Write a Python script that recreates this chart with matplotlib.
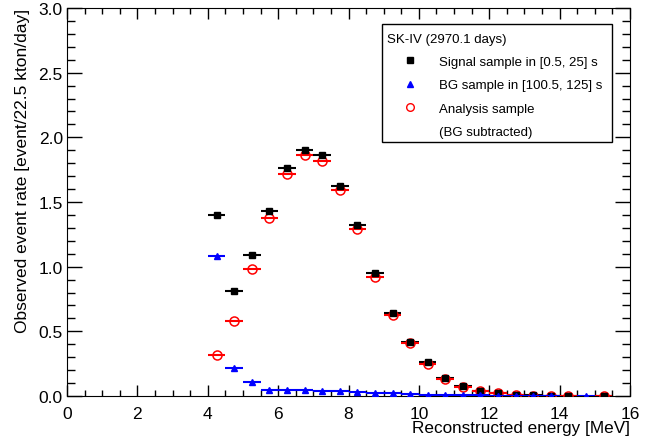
import numpy as np
import matplotlib.pyplot as plt
from matplotlib.lines import Line2D
from matplotlib.patches import Rectangle
from matplotlib.ticker import MultipleLocator

plt.rcParams['font.family'] = ['Liberation Sans', 'DejaVu Sans']

# bin centres [MeV], 0.5 MeV wide
energy = [4.25, 4.75, 5.25, 5.75, 6.25, 6.75, 7.25, 7.75, 8.25, 8.75, 9.25,
          9.75, 10.25, 10.75, 11.25, 11.75, 12.25, 12.75, 13.25, 13.75,
          14.25, 14.75, 15.25]

signal = [1.40, 0.81, 1.09, 1.43, 1.76, 1.90, 1.86, 1.62, 1.32, 0.95, 0.64,
          0.42, 0.26, 0.14, 0.08, 0.04, 0.02, 0.01, 0.005, 0.0,
          0.002, np.nan, 0.002]

bg = [1.08, 0.22, 0.11, 0.05, 0.045, 0.045, 0.04, 0.035, 0.03, 0.026, 0.021,
      0.015, 0.01, 0.008, 0.006, 0.004, 0.003, 0.002, 0.002, 0.001,
      np.nan, 0.0, np.nan]

analysis = [0.32, 0.58, 0.98, 1.38, 1.72, 1.86, 1.82, 1.59, 1.29, 0.92, 0.63,
            0.41, 0.25, 0.13, 0.07, 0.035, 0.02, 0.008, 0.003, 0.0,
            0.0, np.nan, 0.0]

half_bin = 0.25

fig = plt.figure(figsize=(6.52, 4.39), dpi=100)
ax = fig.add_axes([0.1028, 0.0957, 0.8635, 0.8838])

# bars first, markers on top (ROOT-ish look)
ax.errorbar(energy, signal, xerr=half_bin, fmt='none', ecolor='black',
            elinewidth=1.5, capsize=0, zorder=2)
ax.errorbar(energy, analysis, xerr=half_bin, fmt='none', ecolor='red',
            elinewidth=1.5, capsize=0, zorder=2.1)
ax.plot(energy, analysis, 'o', color='red', mfc='none', ms=6.5, mew=1.1, zorder=3)
ax.plot(energy, signal, 's', color='black', ms=5, zorder=3.1)
ax.errorbar(energy, bg, xerr=half_bin, fmt='^', color='blue', ms=5,
            elinewidth=1.5, capsize=0, zorder=3.2)

ax.set_xlim(0, 16)
ax.set_ylim(0, 3.0)
ax.xaxis.set_major_locator(MultipleLocator(2))
ax.xaxis.set_minor_locator(MultipleLocator(0.5))
ax.yaxis.set_major_locator(MultipleLocator(0.5))
ax.yaxis.set_minor_locator(MultipleLocator(0.1))
ax.yaxis.set_major_formatter(plt.FormatStrFormatter('%.1f'))
ax.tick_params(which='both', direction='in', top=True, right=True,
               labelsize=12.5, width=1)
ax.tick_params(axis='x', which='major', length=8, pad=7.5)
ax.tick_params(axis='x', which='minor', length=4)
ax.tick_params(axis='y', which='major', length=11, pad=3)
ax.tick_params(axis='y', which='minor', length=6)

ax.set_xlabel('Reconstructed energy [MeV]', fontsize=12.3, ha='right')
ax.xaxis.set_label_coords(1.0, -0.063)
ax.set_ylabel('Observed event rate [event/22.5 kton/day]', fontsize=12.5,
              loc='top', labelpad=6)

# legend box drawn by hand (ROOT pave has more room on the right)
box_x0, box_y0, box_x1, box_y1 = 0.5595, 0.6546, 0.9680, 0.9588
ax.add_patch(Rectangle((box_x0, box_y0), box_x1 - box_x0, box_y1 - box_y0,
                       transform=ax.transAxes, fc='white', ec='black', lw=1,
                       zorder=5))

handles = [
    Line2D([], [], ls='none', marker='s', color='black', ms=4.5),
    Line2D([], [], ls='none', marker='^', color='blue', ms=4.5),
    Line2D([], [], ls='none', marker='o', color='red', mfc='none', ms=5.5),
    Line2D([], [], ls='none'),
]
labels = ['Signal sample in [0.5, 25] s', 'BG sample in [100.5, 125] s',
          'Analysis sample', '(BG subtracted)']
leg = ax.legend(handles, labels, title='SK-IV (2970.1 days)', loc='upper left',
                bbox_to_anchor=(0.5568, 0.9536), fontsize=9.5, title_fontsize=9.5,
                frameon=False, handlelength=3.5, handletextpad=0.45,
                borderpad=0.5, labelspacing=0.84, borderaxespad=0)
leg._legend_box.align = 'left'
leg.set_zorder(6)

fig.savefig('out.png', dpi=100)
